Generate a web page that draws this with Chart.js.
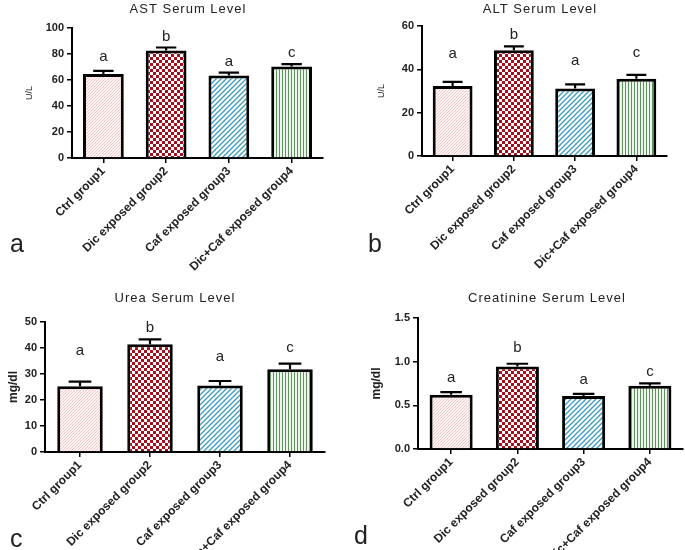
<!DOCTYPE html>
<html lang="en">
<head>
<meta charset="UTF-8" />
<title>Serum Levels</title>
<script src="https://cdn.jsdelivr.net/npm/chart.js"></script>
<style>
  body {
    margin: 0;
    background: #fff;
    width: 685px;
    height: 550px;
    position: relative;
    overflow: hidden;
    font-family: "Liberation Sans", Arial, sans-serif;
  }
  canvas { position: absolute; }
  .tag {
    position: absolute;
    font-size: 25px;
    line-height: 1;
    color: #222;
  }
</style>
</head>
<body>
  <canvas id="astChart" width="340" height="275" style="left:0;top:0"></canvas>
  <canvas id="altChart" width="345" height="275" style="left:340px;top:0"></canvas>
  <canvas id="ureaChart" width="340" height="275" style="left:0;top:275px"></canvas>
  <canvas id="creatChart" width="345" height="275" style="left:340px;top:275px"></canvas>

  <div class="tag" style="left:10px;top:231px">a</div>
  <div class="tag" style="left:368px;top:231px">b</div>
  <div class="tag" style="left:10px;top:526px">c</div>
  <div class="tag" style="left:354px;top:523px">d</div>

<script>
// groups
const groups = ["Ctrl group1", "Dic exposed group2", "Caf exposed group3", "Dic+Caf exposed group4"];

// AST (U/L)
const astMean = [64.7, 82.7, 63.4, 70.3];
const astSem = [2.3, 2.3, 2.3, 1.9];
const astLetters = ["a", "b", "a", "c"];
const astLetterAt = [78, 93, 74, 81];

// ALT (U/L)
const altMean = [32.3, 48.8, 31.2, 35.7];
const altSem = [1.9, 1.8, 1.9, 1.7];
const altLetters = ["a", "b", "a", "c"];
const altLetterAt = [47, 56, 44, 47.5];

// Urea (mg/dl)
const ureaMean = [25.3, 41.4, 25.6, 31.8];
const ureaSem = [1.8, 1.9, 1.7, 2.2];
const ureaLetters = ["a", "b", "a", "c"];
const ureaLetterAt = [38.8, 47.7, 36.5, 40];

// Creatinine (mg/dl)
const creatMean = [0.622, 0.946, 0.607, 0.725];
const creatSem = [0.03, 0.03, 0.025, 0.027];
const creatLetters = ["a", "b", "a", "c"];
const creatLetterAt = [0.81, 1.16, 0.79, 0.88];

const FONT = '"Liberation Sans", Arial, sans-serif';
Chart.defaults.font.family = FONT;
Chart.defaults.color = '#222';

// bar fill textures
const scratch = document.createElement('canvas').getContext('2d');
function texture(kind) {
  const c = document.createElement('canvas');
  const g = c.getContext('2d');
  if (kind === 'dots') {
    c.width = 3; c.height = 3;
    g.fillStyle = '#fdf4f4'; g.fillRect(0, 0, 3, 3);
    g.fillStyle = '#f2c9c9'; g.fillRect(0, 0, 1, 1); g.fillRect(1, 2, 1, 1); g.fillRect(2, 1, 1, 1);
  } else if (kind === 'checker') {
    c.width = 6; c.height = 6;
    g.fillStyle = '#a30f1c'; g.fillRect(0, 0, 6, 6);
    g.fillStyle = '#ffffff'; g.fillRect(0, 0, 3, 3); g.fillRect(3, 3, 3, 3);
  } else if (kind === 'diag') {
    c.width = 5; c.height = 5;
    g.fillStyle = '#ffffff'; g.fillRect(0, 0, 5, 5);
    g.strokeStyle = '#3a9bbf'; g.lineWidth = 1.3;
    g.beginPath();
    g.moveTo(-1, 6); g.lineTo(6, -1);
    g.moveTo(-2, 2); g.lineTo(2, -2);
    g.moveTo(3, 7); g.lineTo(7, 3);
    g.stroke();
  } else {
    c.width = 3; c.height = 1;
    g.fillStyle = '#eef5ec'; g.fillRect(0, 0, 3, 1);
    g.fillStyle = '#5e915e'; g.fillRect(0, 0, 1, 1);
  }
  return scratch.createPattern(c, 'repeat');
}
const fills = [texture('dots'), texture('checker'), texture('diag'), texture('vert')];

function makeChart(id, p) {
  // error bars, significance letters and panel title
  const extras = {
    id: 'extras',
    afterDatasetsDraw(chart) {
      const ctx = chart.ctx;
      const y = chart.scales.y;
      const meta = chart.getDatasetMeta(0);
      ctx.save();
      ctx.strokeStyle = '#000';
      ctx.lineWidth = 2.2;
      meta.data.forEach((bar, i) => {
        const top = y.getPixelForValue(p.mean[i] + p.sem[i]);
        const half = bar.width / 4;
        ctx.beginPath();
        ctx.moveTo(bar.x, bar.y);
        ctx.lineTo(bar.x, top);
        ctx.moveTo(bar.x - half, top);
        ctx.lineTo(bar.x + half, top);
        ctx.stroke();
      });
      ctx.fillStyle = '#222';
      ctx.textAlign = 'center';
      ctx.textBaseline = 'middle';
      ctx.font = '15px ' + FONT;
      meta.data.forEach((bar, i) => {
        ctx.fillText(p.letters[i], bar.x, y.getPixelForValue(p.letterAt[i]));
      });
      ctx.font = '13px ' + FONT;
      ctx.letterSpacing = '1px';
      ctx.fillText(p.title, p.titleX, p.titleY);
      ctx.restore();
    }
  };

  return new Chart(document.getElementById(id), {
    type: 'bar',
    data: {
      labels: groups,
      datasets: [{
        data: p.mean,
        backgroundColor: fills,
        borderColor: '#000',
        borderWidth: 3,
        borderSkipped: 'bottom',
        barPercentage: 0.65,
        categoryPercentage: 1
      }]
    },
    options: {
      responsive: false,
      animation: false,
      layout: { padding: { top: p.top, right: p.right, left: 0, bottom: 0 } },
      plugins: { legend: { display: false }, tooltip: { enabled: false } },
      scales: {
        x: {
          offset: true,
          afterFit: s => { s.height = p.xHeight; },
          grid: { offset: false, drawOnChartArea: false, tickLength: 5, color: '#000', lineWidth: 1.5 },
          border: { color: '#000', width: 2 },
          ticks: { autoSkip: false, minRotation: 45, maxRotation: 45, padding: 1,
                   font: { size: 12, weight: 'bold' } }
        },
        y: {
          min: 0,
          max: p.max,
          afterFit: s => { s.width = p.yWidth; },
          grid: { drawOnChartArea: false, tickLength: 5, color: '#000', lineWidth: 1.5 },
          border: { color: '#000', width: 2 },
          ticks: { stepSize: p.step, padding: 3, font: { size: 11, weight: 'bold' },
                   callback: v => p.decimals ? v.toFixed(p.decimals) : v },
          title: { display: true, text: p.unit, padding: { top: p.unitPad, bottom: 0 },
                   font: p.unitFont }
        }
      }
    },
    plugins: [extras]
  });
}

makeChart('astChart', {
  mean: astMean, sem: astSem, letters: astLetters, letterAt: astLetterAt,
  title: 'AST Serum Level', titleX: 188, titleY: 9,
  max: 100, step: 20, unit: 'U/L', unitPad: 24, unitFont: { size: 9 },
  top: 28, right: 17, yWidth: 72, xHeight: 117
});
makeChart('altChart', {
  mean: altMean, sem: altSem, letters: altLetters, letterAt: altLetterAt,
  title: 'ALT Serum Level', titleX: 200, titleY: 9,
  max: 60, step: 20, unit: 'U/L', unitPad: 36, unitFont: { size: 9 },
  top: 26, right: 18, yWidth: 82, xHeight: 119
});
makeChart('ureaChart', {
  mean: ureaMean, sem: ureaSem, letters: ureaLetters, letterAt: ureaLetterAt,
  title: 'Urea Serum Level', titleX: 175, titleY: 23,
  max: 50, step: 10, unit: 'mg/dl', unitPad: 6, unitFont: { size: 12, weight: 'bold' },
  top: 47, right: 15, yWidth: 45, xHeight: 98
});
makeChart('creatChart', {
  mean: creatMean, sem: creatSem, letters: creatLetters, letterAt: creatLetterAt,
  title: 'Creatinine Serum Level', titleX: 207, titleY: 23,
  max: 1.5, step: 0.5, decimals: 1, unit: 'mg/dl', unitPad: 29, unitFont: { size: 12, weight: 'bold' },
  top: 43, right: 2, yWidth: 78, xHeight: 101
});
</script>
</body>
</html>
